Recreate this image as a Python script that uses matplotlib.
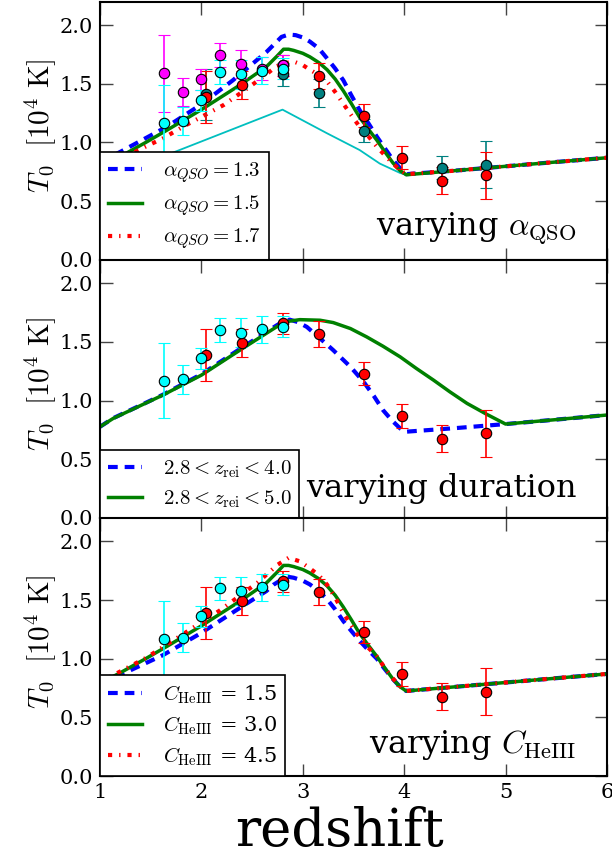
import matplotlib
matplotlib.use('Agg')
import matplotlib.pyplot as plt

plt.rcParams['font.family'] = ['DejaVu Serif']
plt.rcParams['mathtext.fontset'] = 'cm'
plt.rcParams['lines.scale_dashes'] = False

# ---------------- data points ----------------
cyan_z = [1.63, 1.82, 2.00, 2.18, 2.39, 2.60, 2.80]
cyan_T = [1.17, 1.18, 1.36, 1.60, 1.58, 1.61, 1.63]
cyan_err = [0.32, 0.12, 0.09, 0.10, 0.12, 0.115, 0.09]

mag_z = [1.63, 1.82, 2.00, 2.18, 2.39, 2.60, 2.80]
mag_T = [1.59, 1.43, 1.54, 1.745, 1.67, 1.63, 1.66]
mag_err = [0.33, 0.12, 0.09, 0.10, 0.12, 0.10, 0.09]

red_z = [2.05, 2.40, 2.80, 3.16, 3.60, 3.98, 4.37, 4.81]
red_T = [1.39, 1.49, 1.66, 1.57, 1.23, 0.87, 0.675, 0.72]
red_err = [0.22, 0.12, 0.09, 0.11, 0.095, 0.10, 0.115, 0.20]

teal_z = [2.05, 2.80, 3.16, 3.60, 4.37, 4.81]
teal_T = [1.41, 1.58, 1.42, 1.10, 0.785, 0.81]
teal_err = [0.22, 0.10, 0.12, 0.10, 0.10, 0.20]

# ---------------- model curves ----------------
tail_z = [4.5, 5.0, 5.5, 6.0]
tail_T = [0.76, 0.797, 0.834, 0.87]

fid_z = [1.0, 1.2, 1.45, 1.66, 2.0, 2.38, 2.64, 2.75, 2.81, 2.86, 2.91, 3.0,
         3.07, 3.16, 3.24, 3.32, 3.40, 3.48, 3.56, 3.65, 3.73, 3.81, 3.89,
         3.96, 4.02]
fid_T = [0.79, 0.88, 1.0, 1.105, 1.28, 1.49, 1.645, 1.74, 1.795, 1.795, 1.785,
         1.76, 1.73, 1.68, 1.62, 1.54, 1.44, 1.33, 1.215, 1.11, 1.02, 0.92,
         0.825, 0.76, 0.725]

a13_z = [1.0, 1.2, 1.66, 1.99, 2.31, 2.64, 2.79, 2.86, 2.93, 3.0, 3.07, 3.16,
         3.24, 3.32, 3.40, 3.48, 3.56, 3.65, 3.73, 3.81, 3.89, 3.96, 4.02]
a13_T = [0.83, 0.92, 1.135, 1.32, 1.53, 1.77, 1.90, 1.92, 1.915, 1.895, 1.86,
         1.80, 1.716, 1.63, 1.53, 1.40, 1.277, 1.16, 1.05, 0.95, 0.851, 0.78,
         0.73]

a17_z = [1.0, 1.45, 1.62, 1.82, 2.22, 2.45, 2.61, 2.74, 2.82, 2.91, 3.0, 3.07,
         3.16, 3.24, 3.32, 3.40, 3.48, 3.56, 3.65, 3.73, 3.81, 3.89, 3.96,
         4.02]
a17_T = [0.77, 0.965, 1.035, 1.135, 1.32, 1.46, 1.56, 1.65, 1.675, 1.69, 1.66,
         1.62, 1.575, 1.52, 1.43, 1.33, 1.23, 1.135, 1.05, 0.965, 0.89, 0.82,
         0.765, 0.73]

thin_z = [1.0, 1.62, 2.8, 3.24, 3.56, 3.76, 3.96, 4.02]
thin_T = [0.67, 0.88, 1.28, 1.078, 0.936, 0.82, 0.74, 0.725]

d50_z = [1.0, 1.13, 1.62, 2.0, 2.38, 2.74, 2.85, 2.97, 3.17, 3.3, 3.47, 3.63,
         3.79, 3.96, 4.12, 4.29, 4.45, 4.62, 4.81, 5.0, 5.5, 6.0]
d50_T = [0.777, 0.848, 1.047, 1.217, 1.43, 1.628, 1.675, 1.69, 1.685, 1.665,
         1.614, 1.543, 1.464, 1.373, 1.274, 1.174, 1.075, 0.976, 0.885, 0.80,
         0.838, 0.877]

d40_z = [1.0, 1.13, 1.62, 2.0, 2.38, 2.74, 2.80, 2.87, 2.95, 3.04, 3.17, 3.3,
         3.47, 3.6, 3.7, 3.79, 3.88, 3.96, 4.02, 4.5, 5.0, 5.5, 6.0]
d40_T = [0.777, 0.85, 1.05, 1.225, 1.44, 1.64, 1.67, 1.69, 1.67, 1.628, 1.53,
         1.43, 1.288, 1.16, 1.04, 0.92, 0.83, 0.763, 0.735, 0.765, 0.80, 0.838,
         0.877]

c15_z = [1.0, 1.26, 1.62, 1.99, 2.41, 2.64, 2.71, 2.84, 2.91, 3.0, 3.07, 3.16,
         3.24, 3.32, 3.40, 3.48, 3.56, 3.65, 3.73, 3.81, 3.89, 3.96, 4.02]
c15_T = [0.79, 0.885, 1.03, 1.215, 1.45, 1.576, 1.63, 1.70, 1.69, 1.665, 1.633,
         1.575, 1.506, 1.42, 1.32, 1.235, 1.153, 1.07, 1.00, 0.91, 0.825, 0.76,
         0.725]

c45_z = [1.0, 1.46, 2.18, 2.55, 2.75, 2.86, 2.97, 3.07, 3.16, 3.24, 3.32, 3.40,
         3.48, 3.56, 3.65, 3.73, 3.81, 3.89, 3.96, 4.02]
c45_T = [0.80, 1.01, 1.41, 1.646, 1.80, 1.86, 1.83, 1.77, 1.71, 1.63, 1.52,
         1.39, 1.28, 1.18, 1.09, 1.02, 0.92, 0.83, 0.765, 0.725]

yticks = [0.0, 0.5, 1.0, 1.5, 2.0]
xticks = [1, 2, 3, 4, 5, 6]

BLUE = dict(color='#0000ff', lw=3.0, dashes=(7, 5))
GREEN = dict(color='#008000', lw=2.5, ls='-')
RED = dict(color='#ff0000', lw=3.0, dashes=(3, 5, 1, 5))


def errpts(ax, z, T, e, col):
    ax.errorbar(z, T, yerr=e, fmt='o', color=col, ecolor=col, mec='black',
                mew=0.8, ms=7.5, elinewidth=1.2, capsize=4, capthick=1.2,
                zorder=5)


fig, axes = plt.subplots(3, 1, figsize=(6.12, 8.57), dpi=100, sharex=True)
fig.subplots_adjust(left=0.1634, right=0.9918, top=0.998, bottom=0.0945,
                    hspace=0)

# ---- top panel ----
ax = axes[0]
ax.plot(thin_z + tail_z, thin_T + tail_T, color='#00bfbf', lw=1.3)
ax.plot(a13_z + tail_z, a13_T + tail_T, label=r'$\alpha_{QSO} = 1.3$', **BLUE)
ax.plot(fid_z + tail_z, fid_T + tail_T, label=r'$\alpha_{QSO} = 1.5$', **GREEN)
ax.plot(a17_z + tail_z, a17_T + tail_T, label=r'$\alpha_{QSO} = 1.7$', **RED)
errpts(ax, teal_z, teal_T, teal_err, '#008080')
errpts(ax, red_z, red_T, red_err, '#ff0000')
errpts(ax, mag_z, mag_T, mag_err, '#ff00ff')
errpts(ax, cyan_z, cyan_T, cyan_err, '#00ffff')
ax.text(0.94, 0.095, r'varying $\alpha_{\rm QSO}$', transform=ax.transAxes,
        ha='right', va='baseline', fontsize=23)

# ---- middle panel ----
ax = axes[1]
ax.plot(d40_z, d40_T, label=r'$2.8 < z_{\rm rei} < 4.0$', **BLUE)
ax.plot(d50_z, d50_T, label=r'$2.8 < z_{\rm rei} < 5.0$', **GREEN)
errpts(ax, red_z, red_T, red_err, '#ff0000')
errpts(ax, cyan_z, cyan_T, cyan_err, '#00ffff')
ax.text(0.94, 0.08, 'varying duration', transform=ax.transAxes,
        ha='right', va='baseline', fontsize=23)

# ---- bottom panel ----
ax = axes[2]
ax.plot(c15_z + tail_z, c15_T + tail_T, label=r'$C_{\rm HeIII}$ = 1.5', **BLUE)
ax.plot(fid_z + tail_z, fid_T + tail_T, label=r'$C_{\rm HeIII}$ = 3.0', **GREEN)
ax.plot(c45_z + tail_z, c45_T + tail_T, label=r'$C_{\rm HeIII}$ = 4.5', **RED)
errpts(ax, red_z, red_T, red_err, '#ff0000')
errpts(ax, cyan_z, cyan_T, cyan_err, '#00ffff')
ax.text(0.94, 0.09, r'varying $C_{\rm HeIII}$', transform=ax.transAxes,
        ha='right', va='baseline', fontsize=23)
ax.set_xlabel('redshift', fontsize=38)
ax.xaxis.set_label_coords(0.473, -0.115)

for ax in axes:
    ax.set_xlim(1, 6)
    ax.set_ylim(0, 2.2)
    ax.set_yticks(yticks)
    ax.set_yticklabels(['%.1f' % v for v in yticks])
    ax.set_xticks(xticks)
    ax.tick_params(direction='in', top=True, right=True, length=9, width=1.0,
                   color='#444444', labelsize=15, pad=5)
    for s in ax.spines.values():
        s.set_linewidth(1.5)
    ax.set_ylabel(r'$T_0\ \ [10^4\ {\rm K}]$', fontsize=21)
    ax.yaxis.set_label_coords(-0.082, 0.52)
    leg = ax.legend(loc='lower left', borderaxespad=0, fontsize=15,
                    handlelength=1.6, handletextpad=1.0, fancybox=False,
                    framealpha=1, edgecolor='black', labelspacing=0.4)
    leg.get_frame().set_linewidth(1.2)

axes[2].set_xticklabels([str(v) for v in xticks])

fig.savefig('out.png', dpi=100)
